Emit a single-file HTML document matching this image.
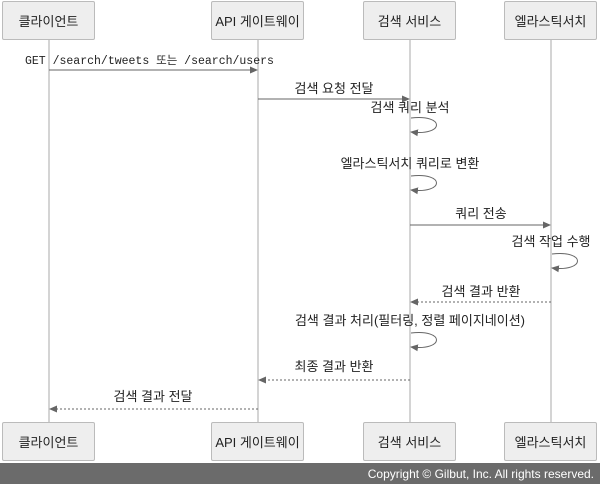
<!DOCTYPE html><html><head><meta charset="utf-8"><style>
body{margin:0;width:600px;height:484px;background:#fff;overflow:hidden;position:relative;font-family:"Liberation Sans","Noto Sans CJK KR",sans-serif}
.b{position:absolute;width:93px;height:39px;background:#eee;border:1px solid #bbb;border-radius:2px;font-size:13px;color:#222;display:flex;align-items:center;justify-content:center;box-sizing:border-box}
.f{position:absolute;left:0;top:463px;width:600px;height:21px;background:#6b6b6b;color:#fff;font-size:12px;text-align:right;padding-right:6px;box-sizing:border-box;line-height:22px}
</style></head><body>
<svg width="600" height="484" style="position:absolute;left:0;top:0" font-family="Liberation Sans, Noto Sans CJK KR, sans-serif" font-size="13" fill="#222">
<defs><marker id="a" markerWidth="8" markerHeight="8" refX="7" refY="4" orient="auto" markerUnits="userSpaceOnUse"><path d="M0,0.5L8,4L0,7.5z" fill="#666"/></marker></defs>
<g stroke="#aaa" stroke-width="1"><line x1="49" y1="40" x2="49" y2="423"/><line x1="258" y1="40" x2="258" y2="423"/><line x1="410" y1="40" x2="410" y2="423"/><line x1="551" y1="40" x2="551" y2="423"/></g>
<g stroke="#666" stroke-width="1" fill="none" marker-end="url(#a)">
<line x1="49" y1="70" x2="257" y2="70"/>
<line x1="258" y1="99" x2="409" y2="99"/>
<path d="M411,118C445,114 445,136 411,132"/>
<path d="M411,176C445,172 445,194 411,190"/>
<line x1="410" y1="225" x2="550" y2="225"/>
<path d="M552,254C586,250 586,272 552,268"/>
<line x1="551" y1="302" x2="411" y2="302" stroke-dasharray="2,2"/>
<path d="M411,333C445,329 445,351 411,347"/>
<line x1="410" y1="380" x2="259" y2="380" stroke-dasharray="2,2"/>
<line x1="258" y1="409" x2="50" y2="409" stroke-dasharray="2,2"/>
</g>
<text x="25" y="64" font-family="Liberation Mono, Noto Sans CJK KR, monospace" font-size="11.5">GET /search/tweets 또는 /search/users</text>
<text x="334" y="93" text-anchor="middle">검색 요청 전달</text>
<text x="410" y="112" text-anchor="middle">검색 쿼리 분석</text>
<text x="410" y="168" text-anchor="middle">엘라스틱서치 쿼리로 변환</text>
<text x="481" y="218" text-anchor="middle">쿼리 전송</text>
<text x="551" y="246" text-anchor="middle">검색 작업 수행</text>
<text x="481" y="296" text-anchor="middle">검색 결과 반환</text>
<text x="410" y="325" text-anchor="middle">검색 결과 처리(필터링, 정렬 페이지네이션)</text>
<text x="334" y="371" text-anchor="middle">최종 결과 반환</text>
<text x="153" y="401" text-anchor="middle">검색 결과 전달</text>
</svg>
<div class="b" style="left:2px;top:1px">클라이언트</div>
<div class="b" style="left:211px;top:1px">API 게이트웨이</div>
<div class="b" style="left:363px;top:1px">검색 서비스</div>
<div class="b" style="left:504px;top:1px">엘라스틱서치</div>
<div class="b" style="left:2px;top:422px">클라이언트</div>
<div class="b" style="left:211px;top:422px">API 게이트웨이</div>
<div class="b" style="left:363px;top:422px">검색 서비스</div>
<div class="b" style="left:504px;top:422px">엘라스틱서치</div>
<div class="f">Copyright © Gilbut, Inc. All rights reserved.</div>
</body></html>
